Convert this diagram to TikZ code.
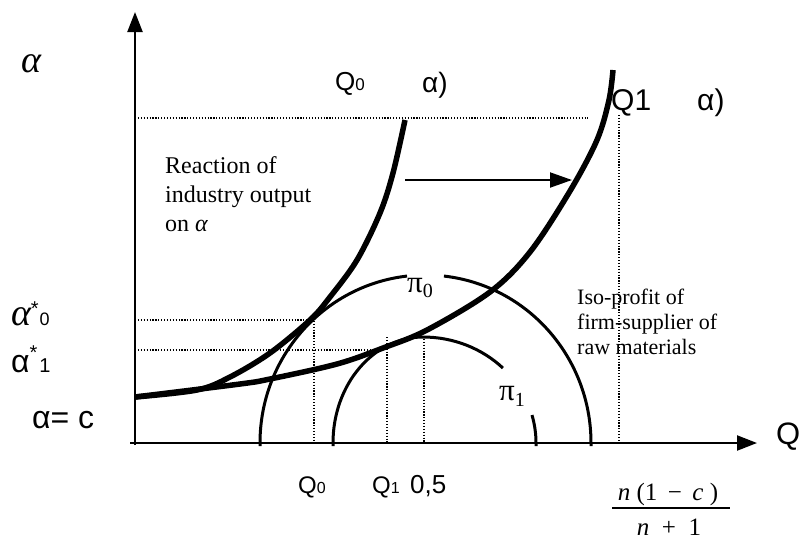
\documentclass[tikz,border=0pt]{standalone}
\usepackage{fontspec}
\setmainfont{Liberation Serif}
\setsansfont{Liberation Sans}
\usetikzlibrary{arrows.meta}
\newcommand\myfs[2]{\fontsize{#1}{#2}\selectfont}
\begin{document}
\begin{tikzpicture}[x=1pt,y=-1pt,
  axis/.style={line width=2.2pt,-{Triangle[length=20pt,width=15pt]}},
  dots/.style={line width=1.5pt,dash pattern=on 1.2pt off 1.7pt},
  react/.style={line width=5.5pt},
  iso/.style={line width=3pt},
  shiftarrow/.style={line width=2pt,-{Triangle[length=22pt,width=15pt]}},
  lab/.style={inner sep=0pt,anchor=base west},
  sanslab/.style={lab,font=\sffamily}]
\useasboundingbox (0,0) rectangle (803,542);

% dotted guide lines
\draw[dots] (135,118) -- (588,118);
\draw[dots] (619,115) -- (619,443);
\draw[dots] (135,320) -- (314,320) -- (314,443);
\draw[dots] (135,350) -- (373,350);
\draw[dots] (387,337) -- (387,443);
\draw[dots] (424,336) -- (424,443);

% iso-profit curves
\draw[iso] (260,446) -- (260,443) arc[start angle=180,end angle=263.6,x radius=165.5,y radius=168];
\draw[iso] (591,446) -- (591,443) arc[start angle=360,end angle=276.4,x radius=165.5,y radius=168];
\draw[iso] (333,446) -- (333,443) arc[start angle=180,end angle=270,x radius=90,y radius=106]
   arc[start angle=270,end angle=315,x radius=113,y radius=106];
\draw[iso] (536,446) -- (536,443) arc[start angle=360,end angle=344.7,x radius=113,y radius=106];

% reaction curves
\draw[react] plot[smooth,tension=0.55] coordinates {(135,397) (197,390) (230,377) (270,353) (310,320) (330,297) (357,260) (380,213) (393,173) (405,120)};
\draw[react] plot[smooth,tension=0.55] coordinates {(135,397) (240,384) (270,379) (337,364) (383,348) (427,330) (490,292) (530,252) (570,191) (597,140) (609,100) (613,70)};

% shift arrow
\coordinate (sa) at (405,180);
\coordinate (sb) at (572,180);
\draw[shiftarrow] (sa) -- (sb);

% axes
\coordinate (o) at (130,443);
\coordinate (xe) at (757,443);
\coordinate (yb) at (135,445);
\coordinate (ye) at (135,12);
\draw[axis] (o) -- (xe);
\draw[axis] (yb) -- (ye);

% labels
\node[lab,font=\myfs{38}{38}] (alab) at (21,72) {\textit{α}};
\node[sanslab,font=\sffamily\myfs{26}{26}] (q0top) at (335,90) {Q{\myfs{17}{17}0}};
\node[sanslab,font=\sffamily\myfs{28}{28}] (a0top) at (422,92) {α)};
\node[sanslab,font=\sffamily\myfs{30}{30}] (q1top) at (611,110) {Q1};
\node[sanslab,font=\sffamily\myfs{30}{30}] (a1top) at (697,110) {α)};

\node[lab,font=\myfs{38}{38}] (as0) at (11,325) {\textit{α}\kern-1pt\raisebox{10pt}{\sffamily\myfs{20}{20}*}\kern1pt{\sffamily\myfs{18}{18}0}};
\node[sanslab,font=\sffamily\myfs{32}{32}] (as1) at (11,372) {α\raisebox{13pt}{\myfs{20}{20}*}\kern2pt{\myfs{20}{20}1}};
\node[sanslab,font=\sffamily\myfs{32}{32}] (ac) at (32,428) {α= c};
\node[sanslab,font=\sffamily\myfs{31}{31}] (qax) at (776,444) {Q};

\node[sanslab,font=\sffamily\myfs{24}{24}] (q0b) at (298,493) {Q{\myfs{16}{16}0}};
\node[sanslab,font=\sffamily\myfs{24}{24}] (q1b) at (372,493) {Q{\myfs{16}{16}1}};
\node[sanslab,font=\sffamily\myfs{26}{26}] (half) at (410,493) {0,5};
\node[inner sep=0pt,anchor=base,font=\myfs{25}{25}] (fnum) at (668,500) {\textit{n} (1 \,−\, \textit{c} )};
\node[inner sep=0pt,anchor=base,font=\myfs{25}{25}] (fden) at (669,535) {\textit{n} \ + \ 1};
\draw[line width=1.6pt] (612,508) -- (730,508);

\node[lab,font=\myfs{31}{31}] (pi0) at (407,292) {π{\myfs{20}{20}\raisebox{-5pt}{0}}};
\node[lab,font=\myfs{31}{31}] (pi1) at (499,400) {π{\myfs{20}{20}\raisebox{-6pt}{1}}};

\node[inner sep=0pt,anchor=north west,align=left,font=\myfs{24}{29}] (react) at (165,156)
  {Reaction of\\industry output\\on \textit{α}};
\node[inner sep=0pt,anchor=north west,align=left,font=\myfs{22}{25}] (isop) at (577,289)
  {Iso-profit of\\firm-supplier of\\raw materials};
\end{tikzpicture}
\end{document}
